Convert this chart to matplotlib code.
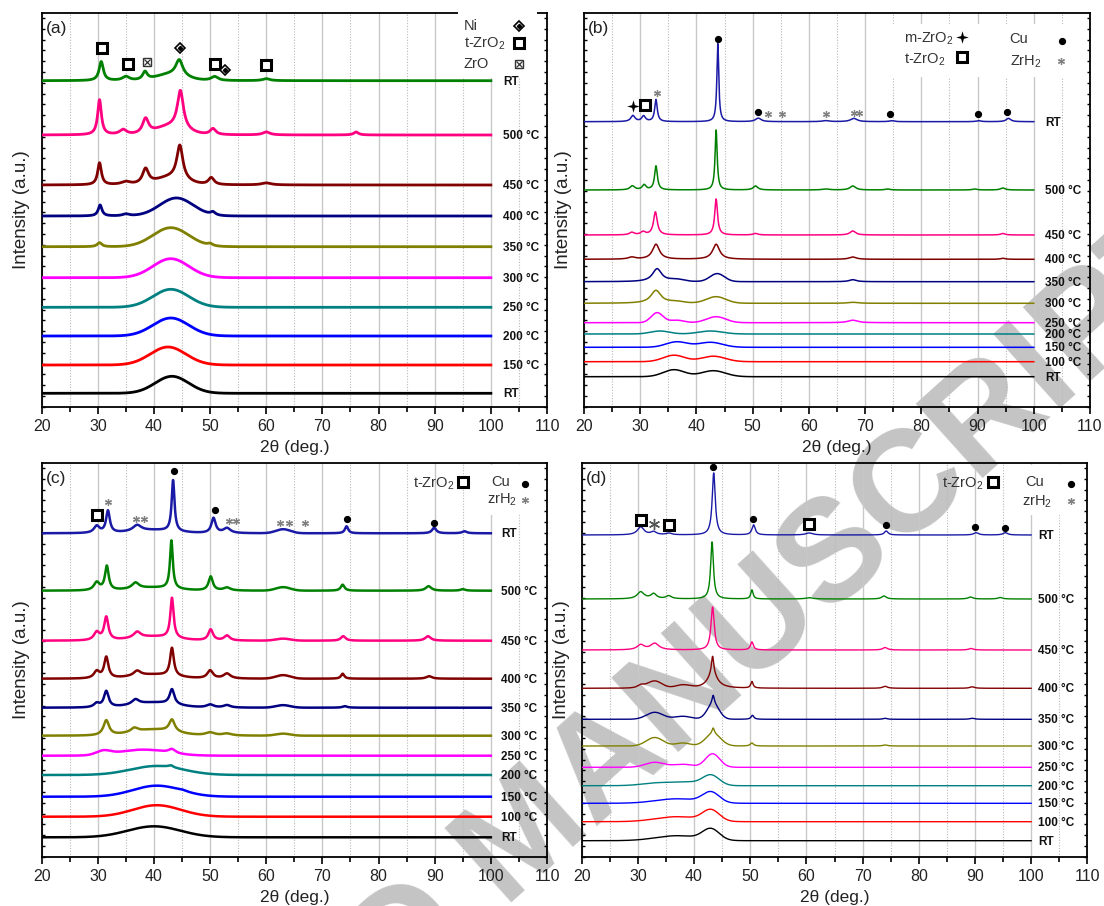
import numpy as np
import matplotlib
matplotlib.use("Agg")
import matplotlib.pyplot as plt
from matplotlib.ticker import MultipleLocator
from matplotlib.patches import Rectangle

plt.rcParams['font.family'] = ['Liberation Sans', 'DejaVu Sans']
plt.rcParams['mathtext.default'] = 'regular'

# ---------------- data ----------------
two_theta_min, two_theta_max = 20, 100

colors_a = ['#000000', '#ff0000', '#0000ff', '#008080', '#ff00ff', '#808000',
            '#000080', '#800000', '#ff0080', '#008000']
temps_a = ["RT", "150 °C", "200 °C", "250 °C", "300 °C", "350 °C", "400 °C",
           "450 °C", "500 °C", "RT"]
offsets_a = [13.4, 41.7, 70.7, 99.4, 129, 160, 190.7, 221.7, 271.7, 326]
# peaks: (2theta, height, fwhm)
peaks_a = [
    [(43.2, 17, 7)],
    [(42.5, 18, 7.5)],
    [(43.0, 18, 7.5)],
    [(43.0, 18, 7.5)],
    [(43.0, 19, 7.5)],
    [(30.3, 4, 1.0), (43.0, 19, 7.5), (50.0, 2, 1.0)],
    [(30.4, 11, 0.8), (35.0, 2, 1.5), (44.0, 18, 7), (50.5, 3, 1.0)],
    [(30.3, 22, 0.8), (35.0, 3, 2.0), (38.5, 15, 1.3), (43.0, 7, 6),
     (44.6, 34, 1.3), (50.2, 7, 1.2), (60.0, 2, 2.0)],
    [(30.3, 35, 0.8), (34.5, 5, 1.5), (38.5, 15, 1.3), (43.0, 8, 6),
     (44.7, 38, 1.3), (50.5, 6, 1.2), (60.0, 3, 1.5), (76.0, 3, 1.0)],
    [(30.6, 19, 0.9), (35.0, 4, 1.5), (38.4, 8, 1.0), (43.0, 6, 6),
     (44.5, 16, 1.5), (50.8, 4, 1.5), (60.0, 2, 1.5)],
]

colors_bcd = ['#000000', '#ff0000', '#0000ff', '#008080', '#ff00ff', '#808000',
              '#000080', '#800000', '#ff0080', '#008000', '#1a1aa6']
temps_bcd = ["RT", "100 °C", "150 °C", "200 °C", "250 °C", "300 °C", "350 °C",
             "400 °C", "450 °C", "500 °C", "RT"]

offsets_b = [30, 45, 59.4, 72.7, 84, 103.4, 125, 147.4, 171.7, 216.7, 285]
peaks_b = [
    [(36.0, 7, 4.5), (43.0, 6, 5)],
    [(36.0, 6.5, 4.5), (43.0, 5.5, 5)],
    [(36.5, 5.5, 4.5), (42.5, 5, 5)],
    [(33.5, 3, 4), (42.5, 3, 5)],
    [(33.0, 10, 2.5), (36.5, 2.5, 3), (43.5, 6, 4), (67.8, 2.5, 2)],
    [(32.8, 13, 2.2), (36.5, 1.5, 3), (43.5, 6.5, 4), (67.8, 1, 2)],
    [(33.0, 13, 2.0), (36.5, 2, 3), (43.7, 8, 3), (67.8, 2, 1.5)],
    [(28.5, 2, 1.5), (32.8, 15, 1.5), (43.5, 15, 1.5), (67.8, 2.3, 1.5),
     (94.5, 1, 1)],
    [(28.5, 2.5, 1), (30.5, 3, 1), (32.7, 23, 0.8), (43.5, 36, 0.6),
     (50.5, 1.5, 1), (67.8, 4, 1.2), (94.5, 1.5, 1)],
    [(28.6, 4, 1), (30.7, 5, 0.8), (32.8, 24, 0.6), (43.5, 60, 0.45),
     (50.5, 4, 1), (63.0, 1, 1.5), (67.8, 4, 1.2), (74.0, 1, 1),
     (89.5, 1, 1), (94.5, 2, 1)],
    [(28.7, 6, 0.9), (30.6, 5.5, 0.8), (32.8, 22, 0.55), (43.8, 78, 0.4),
     (51.0, 3.5, 1.2), (63.0, 1, 1.5), (68.0, 3.3, 1.4), (74.7, 1, 1),
     (90.2, 1, 1), (95.5, 3.3, 1)],
]

offsets_c = [19.4, 40, 60, 81.7, 101, 121, 149, 178, 216, 266, 323.4]
peaks_c = [
    [(40.0, 11, 11)],
    [(40.5, 11.5, 10)],
    [(40.5, 11, 10), (45.0, 1, 2)],
    [(40.5, 9, 11), (43.0, 2, 1)],
    [(31.0, 4, 3), (38.0, 6, 10), (43.2, 4, 1.5)],
    [(31.5, 15, 1.2), (36.5, 4, 1.5), (40.0, 6, 9), (43.2, 12, 1.2),
     (50.0, 3, 2), (53.0, 2, 2), (63.0, 2, 3)],
    [(29.8, 4, 1.2), (31.5, 16, 1.0), (36.7, 5, 1.5), (40.0, 5, 9),
     (43.2, 15, 1.0), (50.0, 3, 1.5), (53.0, 2.5, 1.5), (63.0, 2.5, 3),
     (74.0, 1.5, 1)],
    [(29.8, 7, 1.2), (31.5, 21, 0.9), (37.0, 5, 1.5), (40.0, 4, 9),
     (43.2, 28, 0.8), (50.0, 8, 1.2), (53.0, 5, 1.5), (63.0, 3.5, 3),
     (73.6, 5, 0.7), (89.0, 2.5, 1.2)],
    [(29.8, 8, 1.2), (31.5, 23, 0.9), (37.0, 6, 1.5), (40.0, 4, 9),
     (43.2, 40, 0.7), (50.1, 11, 1), (53.0, 5, 1.2), (63.0, 2, 3),
     (73.7, 4.5, 1), (88.8, 4.5, 1.2)],
    [(29.8, 8, 1.2), (31.6, 24, 0.8), (36.7, 6, 1.5), (40.0, 3, 9),
     (43.1, 48, 0.6), (50.1, 14, 0.9), (53.0, 3, 1.5), (63.0, 3.5, 3),
     (73.6, 6, 0.8), (88.9, 4.5, 1.2), (95.0, 1.5, 1)],
    [(29.8, 7, 1.2), (31.8, 22, 0.8), (37.0, 6, 1.8), (40.0, 3, 9),
     (43.4, 51, 0.6), (50.6, 15, 0.9), (53.0, 5, 1.5), (63.0, 4, 3),
     (74.3, 7, 0.7), (89.9, 5.5, 0.9), (95.3, 2, 1)],
]

offsets_d = [16, 35, 53.4, 71, 89.4, 110.7, 137.4, 168.4, 206.7, 257.7, 321.7]
peaks_d = [
    [(37.0, 5, 9), (43.0, 11, 3.5)],
    [(37.0, 5, 9), (43.0, 11, 3.5)],
    [(37.0, 4.5, 9), (43.0, 10.5, 3.5)],
    [(34.0, 3, 7), (39.0, 3, 5), (43.0, 10.5, 3.5)],
    [(33.0, 5, 4), (38.0, 3, 4), (43.3, 13.5, 3)],
    [(33.0, 8.5, 3.5), (38.0, 3, 3), (43.4, 12, 3.2), (43.4, 6, 0.5),
     (50.3, 3, 0.7), (74.0, 1, 1)],
    [(33.0, 7, 3.5), (38.0, 3, 3.5), (43.4, 15, 2.5), (43.4, 9, 0.5),
     (50.4, 4, 0.6), (74.0, 1, 0.8), (89.5, 1, 1)],
    [(30.5, 3, 1.5), (33.0, 7, 3), (38.0, 3, 3), (43.3, 14, 2.2),
     (43.3, 18, 0.5), (50.3, 6.5, 0.5), (74.0, 2, 1), (89.5, 1.5, 1)],
    [(30.5, 5, 1.5), (33.0, 6.5, 1.8), (43.3, 43, 0.7), (50.3, 8, 0.6),
     (74.0, 2.5, 1), (89.3, 1.5, 1)],
    [(30.5, 7, 1.5), (32.8, 5, 1.2), (35.5, 3, 1.2), (43.2, 57, 0.6),
     (50.3, 9, 0.5), (60.5, 1.3, 1.5), (73.8, 3, 1), (89.2, 2, 1),
     (94.5, 1.5, 1)],
    [(30.5, 8, 1.4), (32.8, 3, 1.2), (35.5, 1.7, 1.2), (43.5, 62, 0.65),
     (50.6, 10, 0.7), (60.5, 2, 1.5), (74.2, 4, 0.8), (90.2, 2.3, 1),
     (95.4, 2.3, 1)],
]

# phase markers: kind, 2theta, height
marks_a_kind = ['sq', 'sq', 'zro', 'ni', 'sq', 'ni', 'sq']
marks_a_x = [30.8, 35.3, 38.7, 44.7, 50.9, 52.7, 59.9]
marks_a_y = [358.4, 342.4, 344.4, 358.4, 342.4, 336.7, 341.4]

marks_b_kind = ['mzro', 'sq', 'zrh', 'cu', 'cu', 'zrh', 'zrh', 'zrh', 'zrh',
                'zrh', 'cu', 'cu', 'cu']
marks_b_x = [28.7, 30.9, 32.9, 43.8, 50.9, 52.8, 55.3, 63.1, 68.0, 69.0,
             74.4, 90.1, 95.3]
marks_b_y = [300.7, 301.7, 313.4, 367.7, 295, 292.7, 292.7, 292.7, 293.4,
             293.4, 292.7, 292.7, 295]

marks_c_kind = ['sq', 'zrh', 'zrh', 'zrh', 'cu', 'cu', 'zrh', 'zrh', 'zrh',
                'zrh', 'zrh', 'cu', 'cu']
marks_c_x = [29.8, 31.8, 36.8, 38.2, 43.5, 50.8, 53.3, 54.6, 62.5, 64.0,
             66.9, 74.3, 89.9]
marks_c_y = [341.4, 355, 337.7, 337.7, 385.4, 346.7, 336, 336, 334, 334,
             333.4, 337.7, 333.7]

marks_d_kind = ['sq', 'zrh_big', 'sq', 'cu', 'cu', 'sq', 'cu', 'cu', 'cu']
marks_d_x = [30.5, 32.9, 35.6, 43.4, 50.5, 60.5, 74.1, 90.0, 95.4]
marks_d_y = [336.4, 332.7, 331.4, 389.4, 337.7, 332.4, 331.4, 329.4, 328.4]

# legends: texts and symbols
leg_a_text = [("Ni", 95.2, 381), ("t-ZrO$_2$", 95.2, 363.4), ("ZrO", 95.2, 342.4)]
leg_a_mark = [('ni', 105.0, 381), ('sq', 105.0, 363.4), ('zro', 105.0, 342.4)]
leg_b_text = [("m-ZrO$_2$", 77.0, 368), ("t-ZrO$_2$", 77.0, 347),
              ("Cu", 95.7, 368), ("ZrH$_2$", 95.7, 345)]
leg_b_mark = [('mzro', 87.3, 370), ('sq', 87.3, 349.4), ('cu', 105.1, 366),
              ('zrh', 104.8, 346)]
leg_c_text = [("t-ZrO$_2$", 86.2, 372.7), ("Cu", 100.1, 374.4), ("zrH$_2$", 99.4, 356.7)]
leg_c_mark = [('sq', 95.1, 374.4), ('cu', 106.0, 372.7), ('zrh', 106.0, 356.7)]
leg_d_text = [("t-ZrO$_2$", 84.2, 372.7), ("Cu", 99.0, 374.4), ("zrH$_2$", 98.4, 355)]
leg_d_mark = [('sq', 93.3, 374.4), ('cu', 107.1, 372.7), ('zrh', 107.1, 356)]

panel_letters = ["(a)", "(b)", "(c)", "(d)"]

# ---------------- drawing ----------------
W, H = 1104, 906
fig = plt.figure(figsize=(W / 100, H / 100), dpi=100)


def add_ax(l, r, t, b):
    return fig.add_axes([l / W, 1 - b / H, (r - l) / W, (b - t) / H])


x = np.linspace(two_theta_min, two_theta_max, 4001)


def profile(peaks):
    y = np.zeros_like(x)
    for pos, h, w in peaks:
        if w >= 2.5:
            s = w / 2.3548
            y += h * np.exp(-0.5 * ((x - pos) / s) ** 2)
        else:
            y += h / (1 + ((x - pos) / (w / 2)) ** 2)
    return y


STAR4 = [(0, 1), (0.22, 0.22), (1, 0), (0.22, -0.22), (0, -1), (-0.22, -0.22),
         (-1, 0), (-0.22, 0.22), (0, 1)]


def marker(ax, kind, xx, yy):
    kw = dict(ls='none', clip_on=False, zorder=6)
    if kind == 'sq':
        ax.plot(xx, yy, marker='s', ms=6.5, mfc='white', mec='black', mew=2.2, **kw)
    elif kind == 'ni':
        ax.plot(xx, yy, marker='D', ms=5.5, mfc='white', mec='black', mew=1.2, **kw)
        ax.plot(xx, yy, marker='D', ms=2.2, color='black', **kw)
    elif kind == 'zro':
        ax.plot(xx, yy, marker='s', ms=6.2, mfc='white', mec='#333333', mew=1.0, **kw)
        ax.plot(xx, yy, marker='x', ms=4, mec='#333333', mew=0.9, **kw)
    elif kind == 'cu':
        ax.plot(xx, yy, marker='o', ms=4.2, color='black', **kw)
    elif kind == 'zrh':
        ax.plot(xx, yy, marker=(6, 2, 0), ms=5, color='#808080', mew=0.9, **kw)
    elif kind == 'zrh_big':
        ax.plot(xx, yy, marker=(6, 2, 0), ms=8, color='#555555', mew=1.0, **kw)
    elif kind == 'mzro':
        ax.plot(xx, yy, marker=STAR4, ms=9, color='black', mew=0, **kw)


def style_axes(ax, letter):
    ax.set_xlim(20, 110)
    ax.set_ylim(0, 394)
    ax.set_facecolor('none')
    ax.xaxis.set_major_locator(MultipleLocator(10))
    ax.xaxis.set_minor_locator(MultipleLocator(5))
    ax.yaxis.set_major_locator(MultipleLocator(10.8))
    ax.set_yticklabels([])
    ax.tick_params(axis='x', which='major', direction='out', length=5, width=1.2,
                   labelsize=11.5, pad=4, colors='black', labelcolor='#222222')
    ax.tick_params(axis='x', which='minor', direction='out', length=3.5, width=1.2)
    ax.tick_params(axis='y', which='both', direction='in', length=2, width=1.0,
                   left=True, right=True, labelleft=False)
    for sp in ax.spines.values():
        sp.set_linewidth(1.3)
    ax.set_axisbelow(True)
    ax.grid(True, axis='x', which='major', color='#c8c8c8', lw=1.0, ls='-')
    ax.grid(True, axis='x', which='minor', color='#b8b8b8', lw=0.8, ls=(0, (1, 1.5)))
    ax.set_xlabel("2θ (deg.)", fontsize=12.5, labelpad=4, color='#222222')
    ax.set_ylabel("Intensity (a.u.)", fontsize=13.5, color='#222222', va='center')
    ax.yaxis.set_label_coords(-20.5 / 505.3, 0.5)
    ax.text(0.008, 0.961, letter, transform=ax.transAxes, fontsize=12.5,
            ha='left', va='center', color='#222222')


def draw_panel(ax, letter, offsets, peaks, colors, temps, lw, label_x,
               mk, mx, my, leg_text, leg_mark, box):
    style_axes(ax, letter)
    for off, pk, col, t in zip(offsets, peaks, colors, temps):
        ax.plot(x, off + profile(pk), color=col, lw=lw, zorder=3)
        ax.text(label_x, off - 1, t, fontsize=8.5, fontweight='bold',
                ha='left', va='center', color='#111111', zorder=5)
    for k, xx, yy in zip(mk, mx, my):
        marker(ax, k, xx, yy)
    bx0, bx1, by0, by1, bz = box
    ax.add_patch(Rectangle((bx0, by0), bx1 - bx0, by1 - by0, facecolor='white',
                           edgecolor='none', zorder=bz, clip_on=False))
    for t, xx, yy in leg_text:
        ax.text(xx, yy, t, fontsize=10.5, ha='left', va='center', color='#333333',
                zorder=6)
    for k, xx, yy in leg_mark:
        marker(ax, k, xx, yy)


ax_a = add_ax(41.7, 547, 12.7, 406.7)
ax_b = add_ax(584, 1090, 12.7, 406.7)
ax_c = add_ax(41.7, 547, 462.7, 856.7)
ax_d = add_ax(581.7, 1087.3, 462.7, 856.7)

draw_panel(ax_a, panel_letters[0], offsets_a, peaks_a, colors_a, temps_a, 2.0, 102.2,
           marks_a_kind, marks_a_x, marks_a_y, leg_a_text, leg_a_mark,
           (94.1, 108.2, 328.7, 398.7, 3))
draw_panel(ax_b, panel_letters[1], offsets_b, peaks_b, colors_bcd, temps_bcd, 1.1, 102.0,
           marks_b_kind, marks_b_x, marks_b_y, leg_b_text, leg_b_mark,
           (73.0, 107.5, 330, 383, 1))
draw_panel(ax_c, panel_letters[2], offsets_c, peaks_c, colors_bcd, temps_bcd, 1.8, 101.8,
           marks_c_kind, marks_c_x, marks_c_y, leg_c_text, leg_c_mark,
           (96.0, 109.5, 342, 392, 1))
draw_panel(ax_d, panel_letters[3], offsets_d, peaks_d, colors_bcd, temps_bcd, 1.0, 101.3,
           marks_d_kind, marks_d_x, marks_d_y, leg_d_text, leg_d_mark,
           (97.0, 109.5, 342, 392, 1))

# watermark
fig.text(527 / W, 68 / H, "ACCEPTED MANUSCRIPT", rotation=42, fontsize=104,
         fontweight='bold', color='#c4c4c4', ha='center', va='center',
         rotation_mode='anchor', zorder=-1)

fig.savefig("out.png", dpi=100)
